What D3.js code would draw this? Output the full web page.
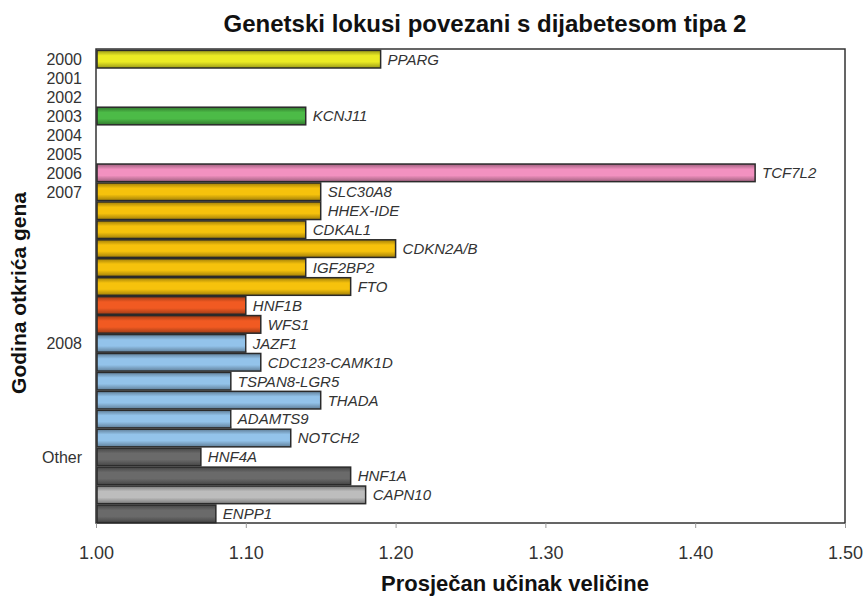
<!DOCTYPE html>
<html>
<head>
<meta charset="utf-8">
<script src="https://cdn.jsdelivr.net/npm/d3@7"></script>
<style>
  body { margin: 0; background: #fff; }
  svg { font-family: Arial, "Liberation Sans", sans-serif; }
</style>
</head>
<body>
<div id="container"></div>
<script>
// rows top to bottom; empty gene = empty year row
var rowYears = ['2000', '2001', '2002', '2003', '2004', '2005', '2006', '2007', '', '', '', '', '', '', '',
  '2008', '', '', '', '', '', 'Other', '', '', ''];
var genes = ['PPARG', '', '', 'KCNJ11', '', '', 'TCF7L2', 'SLC30A8', 'HHEX-IDE', 'CDKAL1', 'CDKN2A/B',
  'IGF2BP2', 'FTO', 'HNF1B', 'WFS1', 'JAZF1', 'CDC123-CAMK1D', 'TSPAN8-LGR5', 'THADA', 'ADAMTS9',
  'NOTCH2', 'HNF4A', 'HNF1A', 'CAPN10', 'ENPP1'];
var effects = [1.19, null, null, 1.14, null, null, 1.44, 1.15, 1.15, 1.14, 1.20,
  1.14, 1.17, 1.10, 1.11, 1.10, 1.11, 1.09, 1.15, 1.09,
  1.13, 1.07, 1.17, 1.18, 1.08];
var groups = ['yellow', '', '', 'green', '', '', 'pink', 'gold', 'gold', 'gold', 'gold',
  'gold', 'gold', 'red', 'red', 'blue', 'blue', 'blue', 'blue', 'blue',
  'blue', 'dark', 'dark', 'light', 'dark'];
var xTicks = [1.0, 1.1, 1.2, 1.3, 1.4, 1.5];

var colors = {
  yellow: '#ecec24', green: '#4cbb47', pink: '#f291c0', gold: '#f6c20c',
  red: '#f15a22', blue: '#93c3ea', dark: '#6a6a6a', light: '#bdbdbd'
};

var width = 864, height = 596;
var mLeft = 96, mRight = 845, mTop = 50, mBottom = 523;

var svg = d3.select('#container').append('svg')
  .attr('width', width)
  .attr('height', height);

var defs = svg.append('defs');
Object.keys(colors).forEach(function(k) {
  var c = d3.color(colors[k]);
  var g = defs.append('linearGradient')
    .attr('id', 'g-' + k)
    .attr('x1', 0).attr('y1', 0).attr('x2', 0).attr('y2', 1);
  g.append('stop').attr('offset', '0%').attr('stop-color', c.darker(1.2));
  g.append('stop').attr('offset', '30%').attr('stop-color', c);
  g.append('stop').attr('offset', '65%').attr('stop-color', c);
  g.append('stop').attr('offset', '100%').attr('stop-color', c.darker(1.2));
});

var x = d3.scaleLinear().domain([1.0, 1.5]).range([mLeft, mRight]);
var y = d3.scaleBand().domain(d3.range(genes.length)).range([mTop, mBottom]).paddingInner(0.07).paddingOuter(0.02);

// title
svg.append('text')
  .attr('x', 485).attr('y', 32)
  .attr('text-anchor', 'middle')
  .attr('font-size', 24).attr('font-weight', 'bold').attr('fill', '#111')
  .text('Genetski lokusi povezani s dijabetesom tipa 2');

// frame
svg.append('rect')
  .attr('x', mLeft).attr('y', mTop - 1)
  .attr('width', mRight - mLeft).attr('height', mBottom - mTop + 1)
  .attr('fill', 'none').attr('stroke', '#333').attr('stroke-width', 1.5);

// x axis
var xAxis = svg.append('g')
  .attr('transform', 'translate(0,' + mBottom + ')')
  .call(d3.axisBottom(x).tickValues(xTicks).tickFormat(d3.format('.2f')).tickSize(5).tickPadding(18));
xAxis.select('.domain').remove();
xAxis.selectAll('line').attr('stroke', '#999');
xAxis.selectAll('text').attr('font-size', 18).attr('fill', '#333').attr('font-family', 'Arial, "Liberation Sans", sans-serif');

// year labels
svg.append('g').selectAll('text')
  .data(rowYears)
  .enter().append('text')
  .attr('x', 82)
  .attr('y', (d, i) => y(i) + y.bandwidth() / 2)
  .attr('dy', '0.36em')
  .attr('text-anchor', 'end')
  .attr('font-size', 16).attr('fill', '#333')
  .text(d => d);

var rows = d3.range(genes.length).filter(i => effects[i] != null);

// bars
svg.append('g').selectAll('rect')
  .data(rows)
  .enter().append('rect')
  .attr('x', x(1.0) + 1)
  .attr('y', i => y(i))
  .attr('width', i => x(effects[i]) - x(1.0) - 1)
  .attr('height', y.bandwidth())
  .attr('fill', i => 'url(#g-' + groups[i] + ')')
  .attr('stroke', '#2a2a2a').attr('stroke-width', 1.5);

// gene labels with white boxes
var lab = svg.append('g').selectAll('g')
  .data(rows)
  .enter().append('g');
var labText = lab.append('text')
  .attr('x', i => x(effects[i]) + 7)
  .attr('y', i => y(i) + y.bandwidth() / 2)
  .attr('dy', '0.36em')
  .attr('font-size', 15).attr('font-style', 'italic').attr('fill', '#333')
  .text(i => genes[i]);
labText.each(function() {
  var b = this.getBBox();
  d3.select(this.parentNode).insert('rect', 'text')
    .attr('x', b.x - 5).attr('y', b.y)
    .attr('width', b.width + 7).attr('height', b.height - 1)
    .attr('fill', '#fff');
});

// axis titles
svg.append('text')
  .attr('transform', 'translate(26,293) rotate(-90)')
  .attr('text-anchor', 'middle')
  .attr('font-size', 21).attr('font-weight', 'bold').attr('fill', '#111')
  .text('Godina otkrića gena');

svg.append('text')
  .attr('x', 515).attr('y', 591)
  .attr('text-anchor', 'middle')
  .attr('font-size', 22).attr('font-weight', 'bold').attr('fill', '#111')
  .text('Prosječan učinak veličine');
</script>
</body>
</html>
